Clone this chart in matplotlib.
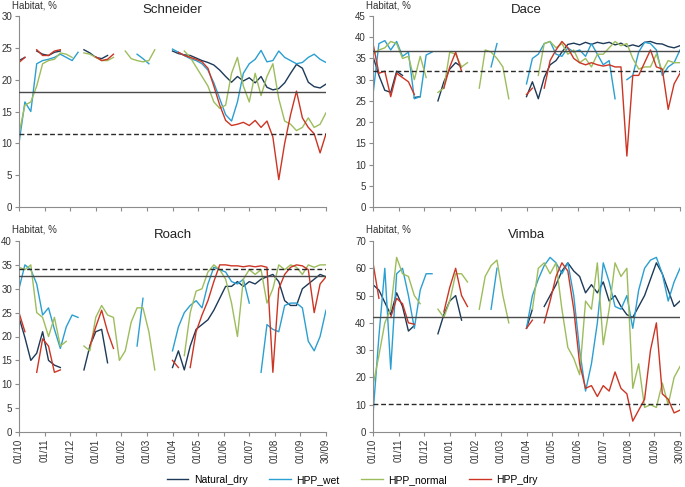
import numpy as np
import matplotlib
matplotlib.use('Agg')
import matplotlib.pyplot as plt

plt.rcParams['font.family'] = ['Liberation Sans', 'DejaVu Sans']

n = np.nan
days = np.arange(0, 365, 7)  ## weekly readings, 01/10 .. 30/09

# Schneider
schneider_nat = [23, 23.5, n, 24.5, 24, 23.8, 24.3, 24.5, n, n, n, 24.7, 24.2, 23.5, 23.3, 23.8,
                 n, n, n, n, n, n, n, n, n, n,
                 24.5, 24.1, 23.9, 23.8, 23.4, 23.0, 22.7, 22.3, 21.5, 20.5, 19.6, 20.5, 19.8, 20.3,
                 19.5, 20.5, 18.8, 18.4, 18.6, 19.5, 21, 22.4, 21.8, 19.6, 18.9, 18.7, 19.3]
schneider_wet = [10, 16.5, 15, 22.5, 23, 23.2, 23.5, 24, 23.5, 23, 24.3, n, n, n, n, n, n, n, n, n,
                 24, 23.3, 22.5, n, n, n,
                 24.8, 24.3, 23.8, 23.3, 23, 22.5, 21.5, 19.5, 17, 14.5, 13.5, 16.5, 21, 22.5,
                 23.2, 24.6, 22.8, 23, 24.5, 23.5, 23, 22.5, 22.7, 23.5, 24, 23.2, 22.7]
schneider_norm = [11.5, 16, 16.5, 19, 22.5, 23, 23.2, 24.2, 24, 23.5, n, 24.2, 24, 23.5, 23, 23, 23.5, n,
                  24.5, 23.3, 23, 22.8, 23, 24.7, n, n, n, n,
                  24.5, 23.5, 22, 20.5, 19, 16.5, 15.5, 16, 21, 23.5, 19, 16.5, 21, 17.5, 20.5,
                  22.5, 17, 13.5, 13, 12, 12.5, 14, 12.5, 13, 14.8]
schneider_dry = [22.7, 23.5, n, 24.7, 23.8, 23.8, 24.5, 24.7, n, n, n, n, n, 23.6, 23, 23.2, 24,
                 n, n, n, n, n, n, n, n, n, n,
                 24.3, 23.8, 23.5, 23.2, 22.8, 21.8, 19, 16, 13.6, 12.8, 13, 13.3, 12.8, 13.6,
                 12.5, 13.5, 11, 4.3, 10, 14.5, 18.2, 14, 12.5, 11.5, 8.5, 11.5]

# Dace
dace_nat = [35.5, 31, 27.5, 27, 32, 31, n, 25.8, 26, n, n, 25, 29.5, 32.5, 34, 33,
            n, n, n, n, n, n, n, n, n, n,
            26, 29.5, 25.5, 30.5, 33.5, 34.5, 36.5, 38.3, 38.6, 38.2, 38.8, 38.3, 38.8, 38.5,
            38.8, 38.2, 38.6, 37.8, 38.2, 37.8, 38.8, 39, 38.5, 38.4, 37.8, 37.5, 38]
dace_wet = [26.5, 38.5, 39.2, 37, 39, 35.5, 36.5, 25.5, 26, 35.8, 36.5, n, n, n, n, n, n, n, n, n,
            33, 38.5, n, n, n, n,
            29, 35, 36, 38.5, 39, 36, 35.5, 37.5, 36.5, 37, 35.5, 38.5, 36, 33.5, 34.5, 25.5, n,
            30, 31, 36.5, 38.8, 38.5, 37, 31, 33, 34, 37]
dace_norm = [36, 37, 37.5, 39, 38.5, 35, 35.5, 30, 35.5, 30.5, n, 27, 28, 36.5, 36, 33, 34, n,
             28, 37, 36.5, 35, 33, 25.5, n, n, n, n,
             31, 38.5, 39, 37.5, 38.5, 36, 37, 34, 35, 33, 36, 36, 37.5, 39, 38, 38.5, 35,
             32.5, 33, 33, 36, 32, 34.5, 34, 34]
dace_dry = [38.5, 31.5, 32, 26, 31.5, 30.5, 29.5, 26.5, n, n, n, n, 28, 33, 36.5, 32,
            n, n, n, n, n, n, n, n, n, n, 26.5, 28, n,
            28, 34.5, 37, 39, 37.5, 35, 34, 33.5, 34, 33.5, 33.2, 33.5, 33, 33, 12, 31, 31,
            34, 37, 33, 32.5, 23, 29, 31.5]

# Roach
roach_nat = [24, 19.8, 15, 16.5, 21, 15, 14, 13.5, n, n, n, 13, 18, 21, 21.5, 14.5,
             n, n, n, n, n, n, n, n, n, n,
             13.5, 17, 13, 18, 21.5, 22.5, 23.5, 25.5, 28, 30.5, 30.5, 31.5, 30.5, 31.5, 31,
             32, 32.5, 33, 31.5, 27.5, 26.5, 26.5, 30, 31, 32, 33, 32.5]
roach_wet = [30, 35, 34, 31, 24.5, 26, 21.5, 17.5, 22, 24.5, 24, n, n, n, n, n, n, n, n, n,
             18, 28, n, n, n, n,
             17, 22, 25, 26.5, 27.5, 26, 31, 34.5, 34, 33.5, 31.5, 31, 32, 27, n,
             12.5, 22.5, 21.5, 21, 26.5, 27, 27, 26, 19, 17, 20, 25.5]
roach_norm = [34.5, 34, 35, 25, 24, 20, 24, 18, 19, n, n,
              18, 17, 24, 26.5, 24.5, 24, 15, 17, 23, 26, 26, 21, 13, n, n, n, n,
              16, 25, 29.5, 30, 33.5, 35, 34, 32, 27, 20, 32, 34, 33, 34, 27, 30, 35, 34, 35,
              34.5, 33, 35, 34.5, 35, 35]
roach_dry = [25, 21, n, 12.5, 19.5, 18, 12.5, 13, n, n, n, n, 18, 22, 25.5, 21, 17.5,
             n, n, n, n, n, n, n, n, n, 15, 13.5, n,
             13.5, 21, 24.5, 27.5, 31.5, 35, 35, 34.8, 34.8, 34.6, 34.8, 34.6, 34.8, 34.5, 12.5,
             30, 33, 34.5, 35, 34.8, 34, 25, 31, 32.5]

# Vimba
vimba_nat = [54, 52, 47.5, 43, 51, 46, 37, 39, n, n, n, 36, 43, 48, 50, 41,
             n, n, n, n, n, n, n, n, n, n, 38, 45, n,
             46, 50, 54, 59, 62, 59, 57, 51, 54, 51, 55, 48, 50, 46, 43, 42, 46, 50, 56, 62,
             58, 52, 46, 48]
vimba_wet = [6.5, 35, 60, 23, 58, 60, 50, 38, 52, 58, 58, n, n, n, n, n, n, n, n, n,
             45, 60, n, n, n, n,
             38, 50, 56, 61, 64, 62, 58, 62, 50, 30, 15, 25, 40, 62, 55, 46, 45, 50, 38, 52,
             60, 63, 64, 58, 48, 55, 60]
vimba_norm = [17, 28, 40, 45, 64, 58, 57, 50, 47, n, n, 45, 42, 48, 58, 58, 55, n,
              45, 57, 61, 63, 50, 40, n, n, n,
              45, 60, 62, 58, 62, 45, 31, 27, 21, 48, 45, 62, 32, 45, 62, 57, 60, 16, 25, 9,
              10, 9, 18, 10, 20, 24]
vimba_dry = [62, 49, n, 42, 49, 47, 40, 39.5, n, n, n, n, 44, 53, 60, 50, 46,
             n, n, n, n, n, n, n, n, n, 38, 41, n,
             40, 48, 57, 62, 59, 45, 25, 16, 17, 13, 17, 15, 22, 16, 14, 4, 8, 12, 30, 40,
             14, 12, 7, 8]

species = ['Schneider', 'Dace', 'Roach', 'Vimba']
series = [
    [schneider_nat, schneider_wet, schneider_norm, schneider_dry],
    [dace_nat, dace_wet, dace_norm, dace_dry],
    [roach_nat, roach_wet, roach_norm, roach_dry],
    [vimba_nat, vimba_wet, vimba_norm, vimba_dry],
]
ref_solid = [18, 36.8, 32.6, 42.2]
ref_dashed = [11.5, 32.1, 34.2, 10.1]
y_max = [30, 45, 40, 70]
y_step = [5, 5, 5, 10]

names = ['Natural_dry', 'HPP_wet', 'HPP_normal', 'HPP_dry']
colors = ['#1d3a58', '#2b9fd1', '#9dbd5c', '#cc3524']
draw_order = [1, 2, 0, 3]  ## which series sits on top
month_labels = ['01/10', '01/11', '01/12', '01/01', '01/02', '01/03', '01/04',
                '01/05', '01/06', '01/07', '01/08', '01/09', '30/09']

for s in series:
    for line in s:
        assert len(line) == len(days)

W, H = 685, 487
fig = plt.figure(figsize=(W / 100, H / 100), dpi=100)
boxes = [(19, 16), (373, 16), (19, 241), (373, 241)]  ## left, top in pixels
handles = [None] * 4

for k in range(4):
    left, top = boxes[k]
    ax = fig.add_axes([left / W, 1 - (top + 191) / H, 307 / W, 191 / H])
    for j in draw_order:
        h, = ax.plot(days, series[k][j], color=colors[j], lw=1.0, zorder=2 + j * 0.1)
        handles[j] = h
    ax.axhline(ref_solid[k], color='#4a4a4a', lw=1.0, zorder=3)
    ax.axhline(ref_dashed[k], color='#2a2a2a', lw=1.0, ls=(0, (3.5, 2)), zorder=3)

    ax.set_xlim(0, 364)
    ax.set_ylim(0, y_max[k])
    ax.set_yticks(np.arange(0, y_max[k] + 1, y_step[k]))
    ax.set_xticks(np.linspace(0, 364, 13))
    if k >= 2:
        ax.set_xticklabels(month_labels, rotation=90)
    else:
        ax.set_xticklabels([])
    for side in ['top', 'right']:
        ax.spines[side].set_visible(False)
    for side in ['left', 'bottom']:
        ax.spines[side].set_color('#8c8c8c')
        ax.spines[side].set_linewidth(0.8)
    ax.tick_params(direction='out', length=3, width=0.8, color='#8c8c8c',
                   labelsize=7, labelcolor='#333333', pad=2)
    ax.set_title(species[k], fontsize=9.5, color='#222222', pad=0.5)
    fig.text((left - 7) / W, 1 - (top - 11) / H, 'Habitat, %', fontsize=7,
             color='#333333', ha='left', va='center')

fig.legend(handles, names, loc='center', bbox_to_anchor=(0.514, 0.0144), ncol=4,
           frameon=False, fontsize=7.5, handlelength=2.1, columnspacing=2.1,
           handletextpad=0.5)

fig.savefig('out.png', dpi=100)
